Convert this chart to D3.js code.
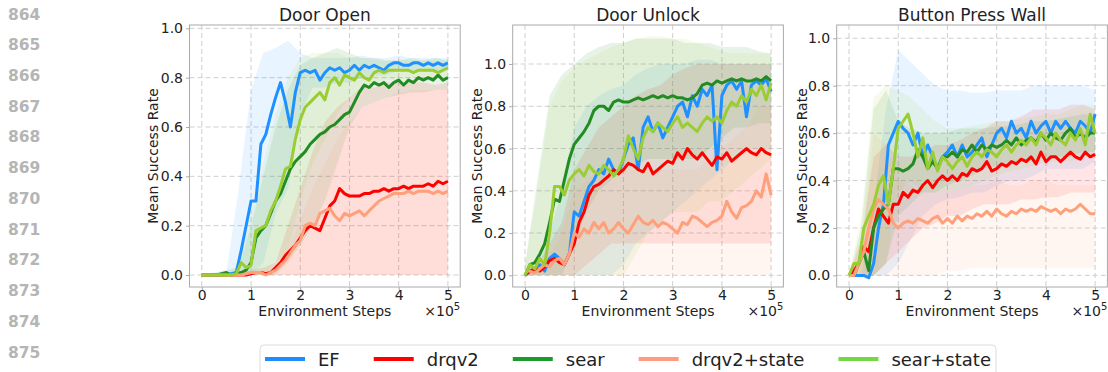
<!DOCTYPE html>
<html>
<head>
<meta charset="utf-8">
<script src="https://cdn.jsdelivr.net/npm/d3@7"></script>
<style>
  body { margin: 0; background: #fff; }
  svg { display: block; font-family: "DejaVu Sans", sans-serif; }
</style>
</head>
<body>
<svg width="1108" height="372"></svg>
<script>
// x positions in units of 1e5 environment steps
const steps = d3.range(51).map(i => i / 10);
const bandSteps = d3.range(21).map(i => i / 4);

const methods = ["EF", "drqv2", "sear", "drqv2+state", "sear+state"];
const lineNumbers = ["864", "865", "866", "867", "868", "869", "870", "871", "872", "873", "874", "875"];
const yTicks = [0, 0.2, 0.4, 0.6, 0.8, 1.0];
const xTicks = [0, 1, 2, 3, 4, 5];

// ---- Door Open ----
const doorOpenEF = [0,0,0,0,0,0,0.005,0.01,0.1,0.2,0.3,0.3,0.53,0.57,0.65,0.72,0.78,0.7,0.6,0.74,0.82,0.83,0.82,0.83,0.79,0.82,0.84,0.83,0.84,0.82,0.83,0.85,0.83,0.85,0.84,0.85,0.84,0.83,0.85,0.86,0.86,0.85,0.85,0.86,0.86,0.85,0.86,0.85,0.86,0.85,0.86];
const doorOpenDrqv2 = [0,0,0,0,0,0,0,0,0,0,0.005,0.01,0.01,0.005,0.01,0.03,0.05,0.08,0.1,0.12,0.15,0.18,0.2,0.19,0.18,0.23,0.28,0.3,0.35,0.33,0.32,0.32,0.32,0.33,0.33,0.34,0.34,0.35,0.34,0.35,0.35,0.36,0.35,0.36,0.36,0.36,0.37,0.36,0.38,0.37,0.38];
const doorOpenSear = [0,0,0,0,0.005,0.01,0,0.005,0.01,0.02,0.05,0.15,0.18,0.2,0.25,0.3,0.33,0.38,0.43,0.46,0.48,0.5,0.53,0.55,0.57,0.58,0.6,0.61,0.63,0.65,0.66,0.7,0.74,0.77,0.76,0.78,0.77,0.78,0.76,0.78,0.79,0.77,0.79,0.78,0.8,0.79,0.8,0.79,0.81,0.79,0.8];
const doorOpenDrqv2State = [0,0,0,0,0,0,0,0,0,0.005,0.01,0.01,0.01,0,0.01,0.02,0.04,0.06,0.09,0.12,0.14,0.2,0.21,0.2,0.25,0.26,0.27,0.24,0.22,0.25,0.24,0.25,0.26,0.24,0.26,0.28,0.3,0.31,0.32,0.33,0.33,0.33,0.34,0.33,0.34,0.34,0.34,0.33,0.34,0.33,0.34];
const doorOpenSearState = [0,0,0,0,0,0,0,0.005,0.05,0.03,0.04,0.18,0.19,0.2,0.26,0.3,0.36,0.43,0.44,0.55,0.63,0.68,0.7,0.72,0.74,0.71,0.78,0.8,0.77,0.81,0.8,0.79,0.82,0.8,0.79,0.82,0.83,0.82,0.83,0.83,0.83,0.83,0.83,0.82,0.83,0.83,0.83,0.83,0.82,0.83,0.84];

const doorOpenEFLo = [0,0,0,0,0,0.05,0.25,0.35,0.65,0.76,0.76,0.78,0.78,0.8,0.81,0.81,0.83,0.82,0.83,0.82,0.83];
const doorOpenEFHi = [0,0,0.01,0.35,0.75,0.9,0.92,0.95,0.9,0.88,0.88,0.88,0.88,0.89,0.88,0.88,0.89,0.88,0.88,0.88,0.88];
const doorOpenDrqv2Lo = [0,0,0,0,0,0,0,0,0,0,0,0,0,0,0,0,0,0,0,0,0];
const doorOpenDrqv2Hi = [0,0,0,0,0.02,0.03,0.05,0.2,0.35,0.5,0.62,0.68,0.72,0.76,0.76,0.78,0.78,0.78,0.78,0.77,0.78];
const doorOpenSearLo = [0,0,0,0,0,0,0,0.05,0.12,0.2,0.3,0.45,0.6,0.68,0.7,0.72,0.73,0.74,0.74,0.75,0.75];
const doorOpenSearHi = [0,0.01,0.02,0.03,0.2,0.4,0.6,0.75,0.85,0.88,0.9,0.92,0.9,0.88,0.88,0.87,0.87,0.88,0.87,0.88,0.87];
const doorOpenDrqv2StateLo = [0,0,0,0,0,0,0,0,0,0,0,0,0,0,0,0,0,0,0,0,0];
const doorOpenDrqv2StateHi = [0,0,0,0,0.01,0.02,0.03,0.1,0.22,0.35,0.45,0.55,0.62,0.68,0.7,0.72,0.74,0.75,0.75,0.75,0.75];
const doorOpenSearStateLo = [0,0,0,0,0,0,0.05,0.1,0.3,0.45,0.55,0.65,0.72,0.75,0.78,0.79,0.79,0.8,0.8,0.8,0.8];
const doorOpenSearStateHi = [0,0,0,0.05,0.25,0.45,0.65,0.8,0.88,0.9,0.9,0.9,0.88,0.88,0.87,0.87,0.87,0.87,0.87,0.87,0.87];

// ---- Door Unlock ----
const doorUnlockEF = [0,0.02,0.03,0.05,0.02,0.08,0.1,0.08,0.05,0.1,0.3,0.28,0.35,0.42,0.45,0.5,0.48,0.55,0.5,0.48,0.55,0.62,0.65,0.5,0.7,0.75,0.68,0.72,0.65,0.7,0.75,0.8,0.82,0.75,0.85,0.8,0.88,0.85,0.9,0.5,0.85,0.9,0.92,0.88,0.92,0.75,0.9,0.92,0.9,0.93,0.87];
const doorUnlockDrqv2 = [0,0.02,0.03,0.02,0.04,0.07,0.08,0.06,0.05,0.1,0.15,0.25,0.3,0.38,0.42,0.43,0.45,0.47,0.5,0.48,0.5,0.53,0.52,0.5,0.49,0.53,0.48,0.5,0.52,0.54,0.53,0.58,0.55,0.6,0.57,0.55,0.58,0.55,0.52,0.56,0.55,0.58,0.54,0.56,0.58,0.6,0.58,0.57,0.6,0.58,0.57];
const doorUnlockSear = [0,0.05,0.06,0.1,0.15,0.25,0.36,0.35,0.45,0.55,0.62,0.65,0.68,0.72,0.78,0.8,0.8,0.78,0.82,0.83,0.82,0.82,0.83,0.84,0.83,0.84,0.85,0.84,0.85,0.84,0.85,0.84,0.84,0.83,0.84,0.86,0.9,0.91,0.9,0.92,0.91,0.92,0.93,0.92,0.93,0.92,0.92,0.93,0.92,0.94,0.92];
const doorUnlockDrqv2State = [0.02,0.02,0.01,0.03,0.05,0.04,0.07,0.08,0.05,0.1,0.2,0.18,0.22,0.2,0.25,0.22,0.25,0.2,0.22,0.25,0.22,0.2,0.24,0.28,0.25,0.24,0.26,0.23,0.25,0.24,0.22,0.2,0.25,0.24,0.28,0.27,0.25,0.23,0.25,0.26,0.28,0.35,0.3,0.27,0.32,0.33,0.35,0.4,0.37,0.48,0.38];
const doorUnlockSearState = [0,0.05,0.03,0.08,0.05,0.2,0.42,0.42,0.38,0.45,0.48,0.5,0.47,0.52,0.49,0.48,0.52,0.5,0.47,0.5,0.55,0.66,0.6,0.55,0.65,0.7,0.68,0.72,0.7,0.68,0.72,0.75,0.7,0.72,0.7,0.68,0.72,0.75,0.73,0.75,0.72,0.78,0.82,0.8,0.85,0.82,0.88,0.85,0.9,0.83,0.91];

const doorUnlockEFLo = [0,0,0,0,0,0,0,0,0.05,0.15,0.2,0.25,0.3,0.35,0.4,0.45,0.5,0.55,0.6,0.6,0.6];
const doorUnlockEFHi = [0.02,0.08,0.2,0.4,0.7,0.8,0.85,0.88,0.9,0.95,0.98,1.0,1.0,1.0,1.02,1.02,1.0,1.0,1.0,1.0,1.0];
const doorUnlockDrqv2Lo = [0,0,0,0,0,0.05,0.1,0.15,0.15,0.15,0.15,0.15,0.15,0.15,0.15,0.15,0.15,0.15,0.15,0.15,0.15];
const doorUnlockDrqv2Hi = [0.02,0.05,0.15,0.25,0.5,0.6,0.7,0.75,0.8,0.85,0.88,0.9,0.95,0.98,1.0,1.0,1.0,1.0,1.0,1.0,1.0];
const doorUnlockSearLo = [0,0,0,0,0.15,0.3,0.4,0.45,0.5,0.52,0.55,0.55,0.55,0.55,0.55,0.6,0.65,0.7,0.7,0.72,0.72];
const doorUnlockSearHi = [0.05,0.45,0.85,0.95,1.0,1.05,1.08,1.1,1.1,1.12,1.12,1.12,1.12,1.1,1.1,1.1,1.08,1.08,1.08,1.06,1.05];
const doorUnlockDrqv2StateLo = [0,0,0,0,0,0,0,0,0,0,0,0,0,0,0,0,0,0,0,0,0];
const doorUnlockDrqv2StateHi = [0.03,0.05,0.1,0.2,0.4,0.45,0.5,0.5,0.5,0.5,0.5,0.5,0.5,0.5,0.5,0.55,0.6,0.65,0.7,0.8,0.8];
const doorUnlockSearStateLo = [0,0,0,0,0,0,0,0,0,0.1,0.2,0.25,0.3,0.3,0.3,0.35,0.35,0.4,0.45,0.5,0.55];
const doorUnlockSearStateHi = [0.05,0.4,0.8,0.92,0.98,1.02,1.05,1.08,1.1,1.12,1.13,1.13,1.12,1.12,1.1,1.08,1.06,1.05,1.05,1.05,1.05];

// ---- Button Press Wall ----
const buttonEF = [0,0,0,0,-0.01,0.05,0.2,0.3,0.55,0.6,0.65,0.62,0.6,0.55,0.6,0.5,0.55,0.5,0.45,0.5,0.52,0.55,0.5,0.55,0.5,0.52,0.55,0.58,0.5,0.55,0.6,0.62,0.58,0.65,0.6,0.62,0.58,0.65,0.6,0.63,0.65,0.6,0.65,0.62,0.65,0.62,0.6,0.65,0.63,0.6,0.68];
const buttonDrqv2 = [0,0.02,0.05,0.12,0.1,0.2,0.28,0.25,0.22,0.3,0.3,0.35,0.33,0.36,0.35,0.38,0.4,0.37,0.4,0.42,0.4,0.42,0.4,0.43,0.42,0.45,0.44,0.45,0.48,0.44,0.45,0.47,0.46,0.48,0.47,0.49,0.48,0.5,0.47,0.52,0.48,0.5,0.5,0.48,0.5,0.52,0.5,0.49,0.52,0.5,0.51];
const buttonSear = [0,0,0.05,0.1,0.02,0.2,0.25,0.28,0.3,0.45,0.45,0.44,0.45,0.47,0.53,0.5,0.45,0.48,0.45,0.5,0.5,0.52,0.5,0.53,0.52,0.55,0.52,0.55,0.53,0.55,0.54,0.55,0.57,0.55,0.58,0.55,0.57,0.58,0.56,0.6,0.57,0.6,0.58,0.57,0.6,0.62,0.58,0.6,0.58,0.6,0.6];
const buttonDrqv2State = [0,0,0.05,0.1,0.2,0.28,0.32,0.3,0.28,0.22,0.2,0.22,0.23,0.22,0.24,0.23,0.22,0.24,0.25,0.22,0.24,0.22,0.25,0.23,0.25,0.24,0.26,0.25,0.27,0.25,0.28,0.26,0.25,0.27,0.26,0.28,0.27,0.28,0.27,0.29,0.28,0.27,0.28,0.26,0.28,0.27,0.28,0.3,0.28,0.26,0.26];
const buttonSearState = [0,0.05,0.05,0.2,0.25,0.3,0.38,0.42,0.3,0.45,0.62,0.65,0.68,0.6,0.5,0.58,0.45,0.52,0.44,0.5,0.48,0.45,0.48,0.5,0.46,0.5,0.52,0.5,0.53,0.52,0.5,0.53,0.55,0.52,0.55,0.57,0.55,0.58,0.55,0.6,0.58,0.55,0.6,0.57,0.55,0.6,0.57,0.62,0.55,0.68,0.6];

const buttonEFLo = [0,0,0,0,0.05,0.15,0.25,0.3,0.32,0.33,0.35,0.35,0.38,0.4,0.4,0.42,0.45,0.45,0.45,0.45,0.48];
const buttonEFHi = [0,0,0.3,0.7,0.95,0.9,0.85,0.8,0.78,0.78,0.77,0.77,0.78,0.78,0.78,0.8,0.8,0.8,0.8,0.8,0.78];
const buttonDrqv2Lo = [0,0,0,0.05,0.1,0.15,0.2,0.22,0.25,0.25,0.28,0.3,0.3,0.3,0.32,0.32,0.33,0.33,0.35,0.35,0.35];
const buttonDrqv2Hi = [0,0.15,0.5,0.55,0.5,0.5,0.52,0.55,0.55,0.57,0.6,0.62,0.65,0.65,0.67,0.7,0.7,0.7,0.72,0.72,0.7];
const buttonSearLo = [0,0,0,0.05,0.25,0.3,0.35,0.35,0.38,0.4,0.42,0.45,0.46,0.47,0.48,0.48,0.5,0.5,0.5,0.52,0.52];
const buttonSearHi = [0,0.2,0.7,0.78,0.65,0.62,0.6,0.6,0.6,0.62,0.62,0.62,0.63,0.63,0.64,0.65,0.65,0.66,0.67,0.68,0.68];
const buttonDrqv2StateLo = [0,0,0,0,0,0,0,0,0.02,0.02,0.03,0.03,0.03,0.03,0.03,0.03,0.03,0.03,0.03,0.03,0.03];
const buttonDrqv2StateHi = [0,0.1,0.6,0.55,0.4,0.38,0.35,0.35,0.35,0.36,0.38,0.38,0.4,0.38,0.38,0.4,0.4,0.38,0.38,0.38,0.38];
const buttonSearStateLo = [0,0,0,0.05,0.35,0.4,0.35,0.35,0.35,0.36,0.38,0.4,0.42,0.44,0.45,0.46,0.48,0.48,0.48,0.5,0.5];
const buttonSearStateHi = [0,0.25,0.75,0.8,0.78,0.75,0.7,0.65,0.62,0.62,0.63,0.64,0.65,0.65,0.66,0.67,0.68,0.68,0.7,0.72,0.72];

const lineColors = ["#1e90ff", "#ff0000", "#228b22", "#ffa07a", "#9acd32"];
const legendColors = ["#1e8cff", "#ff0000", "#1b9a2e", "#ff9c80", "#72d845"];

const panels = [
    {
        title: "Door Open", left: 189.5, right: 460.2, yDomain: [-0.0486, 1.0134], labelX: 153,
        means: [doorOpenEF, doorOpenDrqv2, doorOpenSear, doorOpenDrqv2State, doorOpenSearState],
        lows: [doorOpenEFLo, doorOpenDrqv2Lo, doorOpenSearLo, doorOpenDrqv2StateLo, doorOpenSearStateLo],
        highs: [doorOpenEFHi, doorOpenDrqv2Hi, doorOpenSearHi, doorOpenDrqv2StateHi, doorOpenSearStateHi]
    },
    {
        title: "Door Unlock", left: 512.7, right: 783.4, yDomain: [-0.0554, 1.1846], labelX: 477,
        means: [doorUnlockEF, doorUnlockDrqv2, doorUnlockSear, doorUnlockDrqv2State, doorUnlockSearState],
        lows: [doorUnlockEFLo, doorUnlockDrqv2Lo, doorUnlockSearLo, doorUnlockDrqv2StateLo, doorUnlockSearStateLo],
        highs: [doorUnlockEFHi, doorUnlockDrqv2Hi, doorUnlockSearHi, doorUnlockDrqv2StateHi, doorUnlockSearStateHi]
    },
    {
        title: "Button Press Wall", left: 836.7, right: 1107.4, yDomain: [-0.049, 1.056], labelX: 802,
        means: [buttonEF, buttonDrqv2, buttonSear, buttonDrqv2State, buttonSearState],
        lows: [buttonEFLo, buttonDrqv2Lo, buttonSearLo, buttonDrqv2StateLo, buttonSearStateLo],
        highs: [buttonEFHi, buttonDrqv2Hi, buttonSearHi, buttonDrqv2StateHi, buttonSearStateHi]
    }
];

const plotTop = 25, plotBottom = 287;
const svg = d3.select("svg");

// line numbers down the left margin
svg.append("g")
    .selectAll("text")
    .data(lineNumbers)
    .join("text")
    .attr("x", 8)
    .attr("y", (d, i) => 19.5 + i * 30.73)
    .attr("font-size", 15.5)
    .attr("font-weight", "bold")
    .attr("fill", "#b5b5b5")
    .text(d => d);

panels.forEach((p, pi) => {
    const x = d3.scaleLinear().domain([-0.25, 5.25]).range([p.left, p.right]);
    const y = d3.scaleLinear().domain(p.yDomain).range([plotBottom, plotTop]);
    const g = svg.append("g");

    g.append("clipPath").attr("id", "clip" + pi)
        .append("rect")
        .attr("x", p.left).attr("y", plotTop)
        .attr("width", p.right - p.left).attr("height", plotBottom - plotTop);

    // grid
    g.append("g").selectAll("line").data(xTicks).join("line")
        .attr("x1", d => x(d)).attr("x2", d => x(d))
        .attr("y1", plotTop).attr("y2", plotBottom)
        .attr("stroke", "#cfcfcf").attr("stroke-dasharray", "5,3");
    g.append("g").selectAll("line").data(yTicks).join("line")
        .attr("x1", p.left).attr("x2", p.right)
        .attr("y1", d => y(d)).attr("y2", d => y(d))
        .attr("stroke", "#cfcfcf").attr("stroke-dasharray", "5,3");

    const plot = g.append("g").attr("clip-path", `url(#clip${pi})`);

    const area = d3.area()
        .x((d, i) => x(bandSteps[i]))
        .y0(d => y(d[0]))
        .y1(d => y(d[1]));

    p.lows.forEach((lo, k) => {
        plot.append("path")
            .attr("fill", lineColors[k])
            .attr("fill-opacity", 0.1)
            .attr("d", area(lo.map((v, i) => [v, p.highs[k][i]])));
    });

    const line = d3.line()
        .x((d, i) => x(steps[i]))
        .y(d => y(d));

    p.means.forEach((m, k) => {
        plot.append("path")
            .attr("fill", "none")
            .attr("stroke", lineColors[k])
            .attr("stroke-width", 3)
            .attr("stroke-linejoin", "round")
            .attr("d", line(m));
    });

    // frame
    g.append("rect")
        .attr("x", p.left).attr("y", plotTop)
        .attr("width", p.right - p.left).attr("height", plotBottom - plotTop)
        .attr("fill", "none").attr("stroke", "#aaaaaa");

    // axes
    const xAxis = g.append("g")
        .attr("transform", `translate(0,${plotBottom})`)
        .call(d3.axisBottom(x).tickValues(xTicks).tickSize(3.5).tickPadding(0).tickFormat(d3.format("d")));
    const yAxis = g.append("g")
        .attr("transform", `translate(${p.left},0)`)
        .call(d3.axisLeft(y).tickValues(yTicks).tickSize(3.5).tickPadding(3).tickFormat(d3.format(".1f")));
    [xAxis, yAxis].forEach(a => {
        a.select(".domain").remove();
        a.selectAll(".tick line").attr("stroke", "#aaaaaa");
        a.selectAll(".tick text")
            .attr("font-family", "DejaVu Sans")
            .attr("font-size", 14)
            .attr("fill", "#222");
    });

    const cx = (p.left + p.right) / 2;
    g.append("text")
        .attr("x", cx).attr("y", 21)
        .attr("text-anchor", "middle")
        .attr("font-size", 17)
        .attr("fill", "#222")
        .text(p.title);

    g.append("text")
        .attr("x", cx).attr("y", 316)
        .attr("text-anchor", "middle")
        .attr("font-size", 14)
        .attr("fill", "#222")
        .text("Environment Steps");

    const mult = g.append("text")
        .attr("x", p.right).attr("y", 316)
        .attr("text-anchor", "end")
        .attr("font-size", 14)
        .attr("fill", "#222");
    mult.append("tspan").text("×10");
    mult.append("tspan").attr("dy", -6).attr("font-size", 10).text("5");

    g.append("text")
        .attr("transform", `translate(${p.labelX},${(plotTop + plotBottom) / 2}) rotate(-90)`)
        .attr("text-anchor", "middle")
        .attr("dy", "0.35em")
        .attr("font-size", 14)
        .attr("fill", "#222")
        .text("Mean Success Rate");
});

// legend
const legend = svg.append("g");
legend.append("rect")
    .attr("x", 260).attr("y", 345)
    .attr("width", 736).attr("height", 40)
    .attr("rx", 4)
    .attr("fill", "#fff").attr("stroke", "#dcdcdc");

let lx = 265;
methods.forEach((m, k) => {
    legend.append("line")
        .attr("x1", lx).attr("x2", lx + 40)
        .attr("y1", 359).attr("y2", 359)
        .attr("stroke", legendColors[k]).attr("stroke-width", 4);
    const t = legend.append("text")
        .attr("x", lx + 53).attr("y", 365.5)
        .attr("font-size", 18)
        .attr("fill", "#222")
        .text(m);
    lx += 53 + t.node().getComputedTextLength() + 34;
});
</script>
</body>
</html>
